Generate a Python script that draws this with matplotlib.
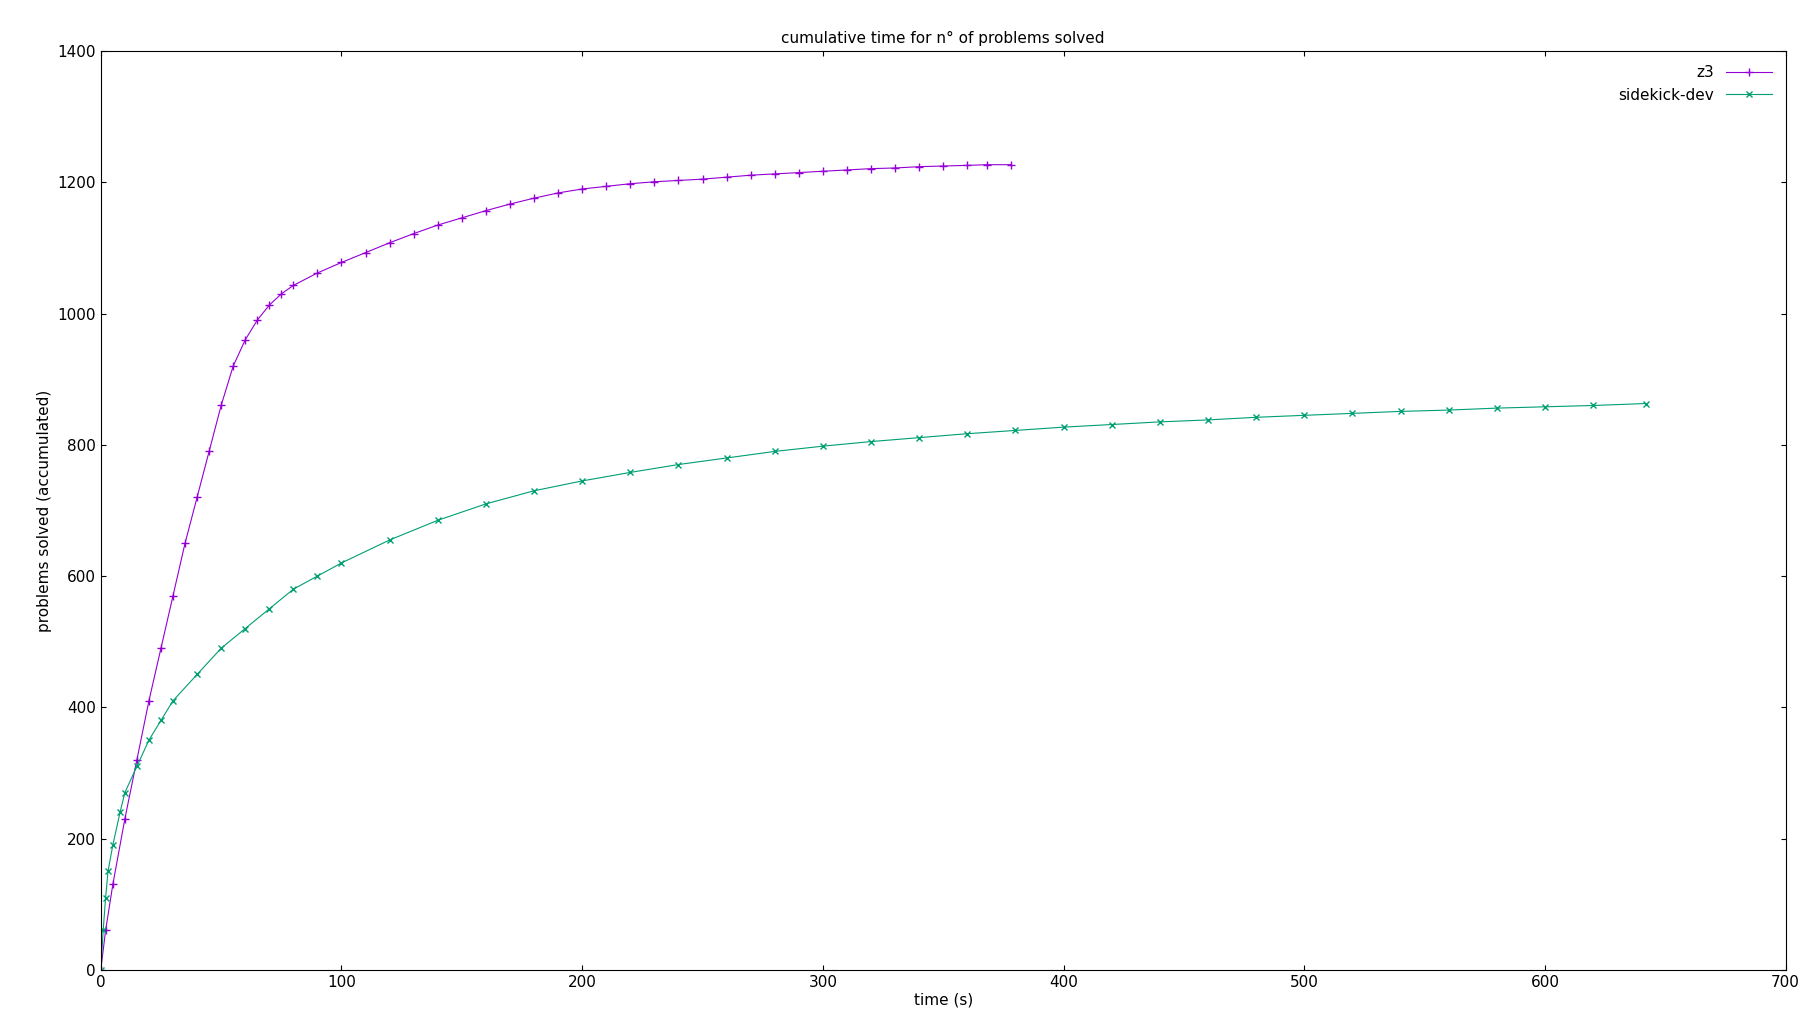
import matplotlib
matplotlib.use("Agg")
import matplotlib.pyplot as plt

z3_t = [0,2,5,10,15,20,25,30,35,40,45,50,55,60,65,70,75,80,90,100,110,120,130,140,150,160,170,180,190,200,210,220,230,240,250,260,270,280,290,300,310,320,330,340,350,360,368,378]
z3_n = [0,60,130,230,320,410,490,570,650,720,790,860,920,960,990,1013,1030,1043,1062,1078,1093,1108,1122,1135,1146,1157,1167,1176,1184,1190,1194,1198,1201,1203,1205,1208,1211,1213,1215,1217,1219,1221,1222,1224,1225,1226,1227,1227]
sk_t = [0,1,2,3,5,8,10,15,20,25,30,40,50,60,70,80,90,100,120,140,160,180,200,220,240,260,280,300,320,340,360,380,400,420,440,460,480,500,520,540,560,580,600,620,642]
sk_n = [0,60,110,150,190,240,270,310,350,380,410,450,490,520,550,580,600,620,655,685,710,730,745,758,770,780,790,798,805,811,817,822,827,831,835,838,842,845,848,851,853,856,858,860,863]

fig = plt.figure(figsize=(18, 10.24), dpi=100)
ax = fig.add_axes([0.056, 0.053, 0.936, 0.897])
ax.plot(z3_t, z3_n, color="#9400d3", marker="+", ms=6, lw=0.8, label="z3")
ax.plot(sk_t, sk_n, color="#009e73", marker="x", ms=5, lw=0.8, label="sidekick-dev")
ax.set_xlim(0, 700)
ax.set_ylim(0, 1400)
ax.set_xticks(range(0, 701, 100))
ax.set_yticks(range(0, 1401, 200))
ax.tick_params(direction="in", top=True, right=True, labelsize=11)
ax.set_xlabel("time (s)", fontsize=11, labelpad=2)
ax.set_ylabel("problems solved (accumulated)", fontsize=11)
ax.set_title("cumulative time for n° of problems solved", fontsize=11)
ax.legend(loc="upper right", frameon=False, markerfirst=False, fontsize=11, handlelength=3)
fig.savefig("out.png")
